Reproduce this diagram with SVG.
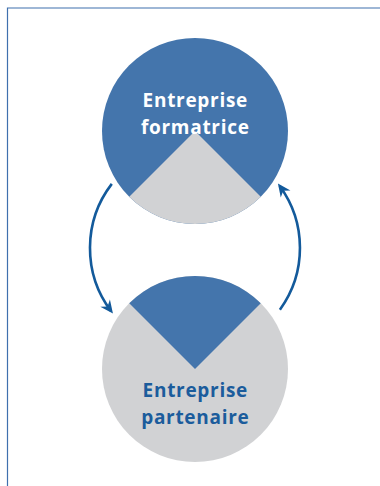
<svg xmlns="http://www.w3.org/2000/svg" width="380" height="486" viewBox="0 0 380 486">
<style>
.frame{fill:none;stroke:#3F70AE;stroke-width:1.2}
.blue{fill:#4475AC}
.grey{fill:#D1D2D4}
.lbl{font-family:"Open Sans","Noto Sans",sans-serif;font-weight:700;font-size:19px;letter-spacing:0.7px;text-anchor:middle}
.w{fill:#FFFFFF}
.b{fill:#1B5C9C}
.arrow{fill:none;stroke:#135A9B;stroke-width:2.6;marker-end:url(#ah)}
</style>
<defs>
<marker id="ah" markerUnits="userSpaceOnUse" viewBox="-14 -7 15 14" markerWidth="15" markerHeight="14" refX="-3" refY="0" orient="auto">
<path d="M0,0 L-13,-6 L-9,0 L-13,6 Z" fill="#135A9B"/>
</marker>
</defs>
<path class="frame" d="M7.5,486 V8 H380"/>
<g id="node-formatrice">
<circle class="blue" cx="195" cy="131" r="93"/>
<path class="grey" d="M195,131 L260.76,196.76 A93,93 0 0 1 129.24,196.76 Z"/>
<text class="lbl w" x="195.3" y="106.5">Entreprise</text>
<text class="lbl w" x="195.3" y="133.5">formatrice</text>
</g>
<g id="node-partenaire">
<circle class="grey" cx="195" cy="369" r="93"/>
<path class="blue" d="M195,369 L129.24,303.24 A93,93 0 0 1 260.76,303.24 Z"/>
<text class="lbl b" x="195.3" y="397">Entreprise</text>
<text class="lbl b" x="195.3" y="423.5">partenaire</text>
</g>
<g id="connectors">
<path class="arrow" d="M111.8,183.9 A105,105 0 0 0 111.14,311.19"/>
<path class="arrow" d="M279.9,309.7 A105,105 0 0 0 279.7,186"/>
</g>
</svg>
